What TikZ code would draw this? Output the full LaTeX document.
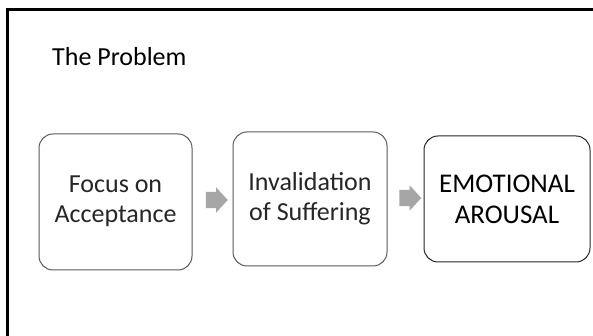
\documentclass[tikz,border=0pt]{standalone}
\usepackage{fontspec}
\setmainfont{Carlito}
\usetikzlibrary{shapes.arrows}
\definecolor{boxline}{HTML}{595959}
\definecolor{txt}{HTML}{262626}
\definecolor{arrowgray}{HTML}{A6A6A6}
\begin{document}
\begin{tikzpicture}[x=1pt,y=1pt,
  stepbox/.style={draw=boxline, line width=1pt, rounded corners=14pt, fill=white},
  boxtext/.style={font=\fontsize{26}{30}\selectfont, text=txt, align=center},
  chev/.style={single arrow, fill=arrowgray, draw=none, inner xsep=0pt, inner ysep=8pt,
    single arrow head extend=4.5pt, minimum height=22pt, single arrow tip angle=95}]
\useasboundingbox (0,0) rectangle (593,336);
\fill[white] (0,0) rectangle (593,336);
% slide frame
\draw[line width=3pt, black] (7.5,0) -- (7.5,326.5) -- (593,326.5);
% title
\node[anchor=base west, font=\fontsize{26}{30}\selectfont, text=black, inner sep=0pt] (title) at (52,270.5) {The Problem};
% boxes
\draw[stepbox] (39,66) rectangle (192,202);
\node[boxtext] (b1) at (115.5,135) {Focus on\\Acceptance};
\draw[stepbox] (233,70) rectangle (387,204);
\node[boxtext] (b2) at (310,137) {Invalidation\\of Suffering};
\draw[stepbox, draw=txt] (424,74) rectangle (590,200);
\node[boxtext, font=\fontsize{27}{31}\selectfont, text=black] (b3) at (507,137) {EMOTIONAL\\AROUSAL};
% arrows
\node[chev] (a1) at (213,136) {};
\node[chev] (a2) at (406.5,138) {};
\end{tikzpicture}
\end{document}
